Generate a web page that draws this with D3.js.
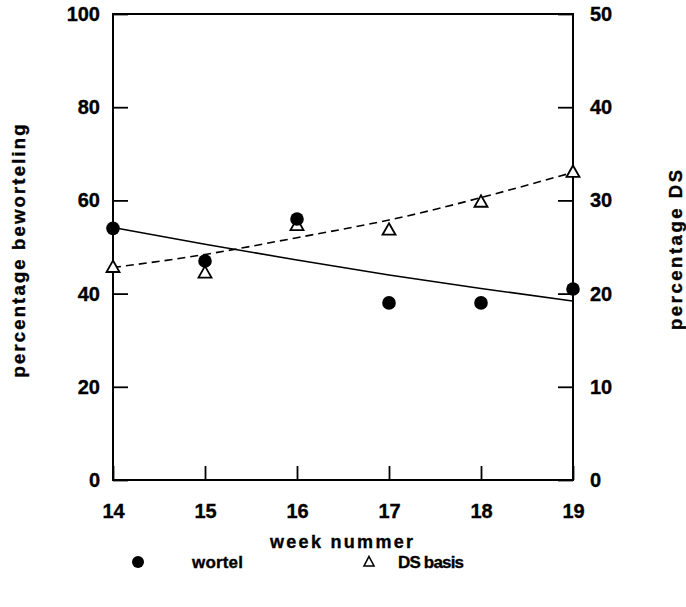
<!DOCTYPE html>
<html>
<head>
<meta charset="utf-8">
<script src="https://cdn.jsdelivr.net/npm/d3@7"></script>
<style>
  html, body { margin: 0; padding: 0; background: #fff; }
  svg text {
    font-family: "Liberation Sans", Arial, sans-serif; font-weight: bold;
    fill: #000; stroke: #000; stroke-width: 0.35px;
  }
</style>
</head>
<body>
<svg id="chart" width="686" height="607"></svg>
<script>
// Week numbers on the x axis
const weeks = [14, 15, 16, 17, 18, 19];
// Rooting percentage (left axis), filled circles
const wortel = [54, 47, 56, 38, 38, 41];
// Dry-matter percentage of the base (right axis), open triangles
const dsBasis = [22.8, 22.2, 27.3, 26.8, 29.8, 33.0];
// Fitted trend values per week
const wortelTrend = [54.2, 50.6, 47.2, 44.0, 41.1, 38.4];
const dsTrend = [22.8, 24.2, 26.0, 27.9, 30.3, 33.0];
// Tick labels
const leftTicks = [0, 20, 40, 60, 80, 100];
const rightTicks = [0, 10, 20, 30, 40, 50];

const svg = d3.select("#chart");
const plotLeft = 113, plotRight = 573, plotTop = 14, plotBottom = 480;

const x = d3.scaleLinear().domain([14, 19]).range([plotLeft, plotRight]);
const yL = d3.scaleLinear().domain([0, 100]).range([plotBottom, plotTop]);
const yR = d3.scaleLinear().domain([0, 50]).range([plotBottom, plotTop]);

// Axes with inward ticks
const axL = svg.append("g").attr("transform", `translate(${plotLeft},0)`)
  .call(d3.axisLeft(yL).tickValues(leftTicks).tickSizeInner(-15).tickSizeOuter(0).tickPadding(13));
const axR = svg.append("g").attr("transform", `translate(${plotRight},0)`)
  .call(d3.axisRight(yR).tickValues(rightTicks).tickSizeInner(-15).tickSizeOuter(0).tickPadding(17));
const axB = svg.append("g").attr("transform", `translate(0,${plotBottom})`)
  .call(d3.axisBottom(x).tickValues(weeks).tickFormat(d3.format("d")).tickSizeInner(-14).tickSizeOuter(0).tickPadding(24));

[axL, axR, axB].forEach(g => {
  g.select(".domain").remove();
  g.selectAll(".tick line").attr("stroke", "#000").attr("stroke-width", 1.8);
  g.selectAll(".tick text").style("font-size", "20px");
});

// Plot frame
svg.append("rect")
  .attr("x", plotLeft).attr("y", plotTop)
  .attr("width", plotRight - plotLeft).attr("height", plotBottom - plotTop)
  .attr("fill", "none").attr("stroke", "#000").attr("stroke-width", 2);

// Trend curves
const lineL = d3.line().x((d, i) => x(weeks[i])).y(d => yL(d)).curve(d3.curveNatural);
const lineR = d3.line().x((d, i) => x(weeks[i])).y(d => yR(d)).curve(d3.curveNatural);

svg.append("path").datum(wortelTrend).attr("d", lineL)
  .attr("fill", "none").attr("stroke", "#000").attr("stroke-width", 1.6);
svg.append("path").datum(dsTrend).attr("d", lineR)
  .attr("fill", "none").attr("stroke", "#000").attr("stroke-width", 1.6)
  .attr("stroke-dasharray", "8,5");

// Markers
const tri = "M0,-7L6.5,4.5L-6.5,4.5Z";
svg.append("g").selectAll("path").data(dsBasis).join("path")
  .attr("transform", (d, i) => `translate(${x(weeks[i])},${yR(d)})`)
  .attr("d", tri).attr("fill", "#fff").attr("stroke", "#000").attr("stroke-width", 1.8);

svg.append("g").selectAll("circle").data(wortel).join("circle")
  .attr("cx", (d, i) => x(weeks[i])).attr("cy", d => yL(d))
  .attr("r", 6.8).attr("fill", "#000");

// Axis titles
svg.append("text").attr("transform", "translate(25,251) rotate(-90)")
  .attr("text-anchor", "middle").style("font-size", "18.5px")
  .attr("textLength", 253).attr("lengthAdjust", "spacing")
  .text("percentage beworteling");
svg.append("text").attr("transform", "translate(682,250) rotate(-90)")
  .attr("text-anchor", "middle").style("font-size", "18.5px")
  .attr("textLength", 160).attr("lengthAdjust", "spacing")
  .text("percentage DS");
svg.append("text").attr("x", 341.5).attr("y", 548)
  .attr("text-anchor", "middle").style("font-size", "18px")
  .attr("textLength", 143).attr("lengthAdjust", "spacing")
  .text("week nummer");

// Legend
svg.append("circle").attr("cx", 138).attr("cy", 562).attr("r", 6).attr("fill", "#000");
svg.append("text").attr("x", 192).attr("y", 568).style("font-size", "17px")
  .attr("textLength", 51).attr("lengthAdjust", "spacing").text("wortel");
svg.append("path").attr("transform", "translate(369,562)")
  .attr("d", "M0,-5.5L5,4L-5,4Z").attr("fill", "#fff").attr("stroke", "#000").attr("stroke-width", 1.6);
svg.append("text").attr("x", 398).attr("y", 568).style("font-size", "17px")
  .attr("textLength", 66).attr("lengthAdjust", "spacing").text("DS basis");
</script>
</body>
</html>
